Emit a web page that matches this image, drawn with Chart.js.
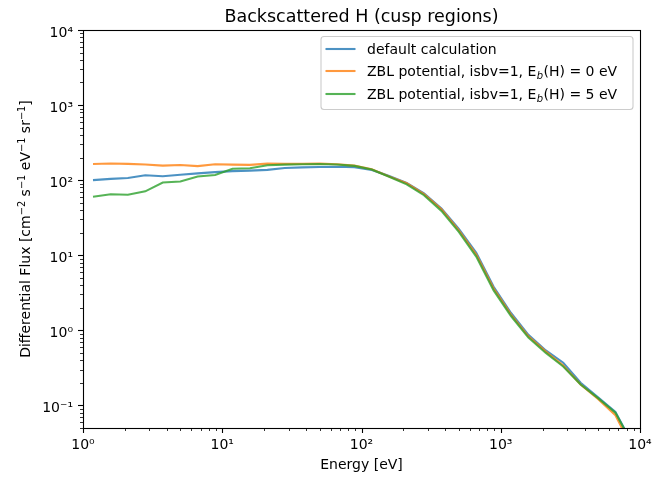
<!DOCTYPE html>
<html>
<head>
<meta charset="utf-8">
<script src="https://cdn.jsdelivr.net/npm/chart.js@4.4.0/dist/chart.umd.min.js"></script>
<style>
html, body { margin: 0; padding: 0; background: #fff; }
#wrap { width: 667px; height: 479px; }
</style>
</head>
<body>
<div id="wrap"><canvas id="chart" width="667" height="479"></canvas></div>
<script>
const energy = [1.18, 1.58, 2.1, 2.8, 3.74, 5.0, 6.66, 8.89, 11.85, 15.8, 21.1, 28.1, 37.5, 50, 66.7, 88.9,
    118.5, 158, 211, 281, 375, 500, 667, 889, 1185, 1580, 2107, 2810, 3746, 4995, 6660, 8880]
const fluxDefault = [100, 104, 107, 116, 113, 118, 123, 128, 132, 134, 137, 145, 148, 150, 151, 149,
    137, 114, 92, 66.5, 42, 22.5, 10.8, 3.8, 1.7, 0.87, 0.54, 0.37, 0.2, 0.128, 0.082, 0.03]
const fluxZbl0 = [164, 167, 165, 162, 156, 159, 154, 163, 161, 160, 166, 165, 165, 166, 163, 156,
    140, 112, 91, 65, 41, 21.5, 10.2, 3.6, 1.62, 0.83, 0.52, 0.34, 0.19, 0.122, 0.074, 0.026]
const fluxZbl5 = [60, 65, 64, 71, 93, 96, 112, 117, 142, 144, 158, 161, 163, 164, 162, 155,
    139, 111, 88, 63, 39, 20.5, 9.6, 3.4, 1.55, 0.8, 0.5, 0.33, 0.19, 0.125, 0.08, 0.03]

const xMajor = [1, 10, 100, 1000, 10000]
const xTickLabels = ['10⁰', '10¹', '10²', '10³', '10⁴']
const yMajor = [0.1, 1, 10, 100, 1000, 10000]
const yTickLabels = ['10⁻¹', '10⁰', '10¹', '10²', '10³', '10⁴']

const seriesLabels = ['default calculation', 'ZBL potential, isbv=1, E_b(H) = 0 eV', 'ZBL potential, isbv=1, E_b(H) = 5 eV']
const seriesColors = ['rgba(31,119,180,0.8)', 'rgba(255,127,14,0.8)', 'rgba(44,160,44,0.8)']
const chartTitle = 'Backscattered H (cusp regions)'
const yTitle = 'Differential Flux [cm^{−2} s^{−1} eV^{−1} sr^{−1}]'

const FONT = 'DejaVu Sans'

const toPoints = ys => energy.map((e, i) => ({ x: e, y: ys[i] }))

// major + minor ticks for a log axis
function logTicks(min, max) {
    const out = []
    for (let e = Math.floor(Math.log10(min)); e <= Math.ceil(Math.log10(max)); e++) {
        for (let m = 1; m <= 9; m++) {
            const v = m * Math.pow(10, e)
            if (v < min * 0.9999 || v > max * 1.0001) continue
            out.push({ value: v, major: m === 1 })
        }
    }
    return out
}

function labelFor(value, majors, labels) {
    for (let i = 0; i < majors.length; i++) {
        if (Math.abs(Math.log10(value) - Math.log10(majors[i])) < 1e-6) return labels[i]
    }
    return ''
}

// split "a^{b}c" into plain / superscript pieces
function mathParts(str) {
    const parts = []
    const re = /\^\{([^}]*)\}/g
    let last = 0, m
    while ((m = re.exec(str)) !== null) {
        if (m.index > last) parts.push({ t: str.slice(last, m.index), sup: false })
        parts.push({ t: m[1], sup: true })
        last = re.lastIndex
    }
    if (last < str.length) parts.push({ t: str.slice(last), sup: false })
    return parts
}

const tickMarks = {
    id: 'tickMarks',
    afterDraw(chart) {
        const ctx = chart.ctx
        const a = chart.chartArea
        const xs = chart.scales.x
        const ys = chart.scales.y
        ctx.save()
        ctx.strokeStyle = '#000'
        xs.ticks.forEach(t => {
            const px = Math.round(xs.getPixelForValue(t.value)) + 0.5
            ctx.lineWidth = t.major ? 1.1 : 0.8
            ctx.beginPath()
            ctx.moveTo(px, a.bottom)
            ctx.lineTo(px, a.bottom + (t.major ? 5 : 3))
            ctx.stroke()
        })
        ys.ticks.forEach(t => {
            const py = Math.round(ys.getPixelForValue(t.value)) + 0.5
            ctx.lineWidth = t.major ? 1.1 : 0.8
            ctx.beginPath()
            ctx.moveTo(a.left, py)
            ctx.lineTo(a.left - (t.major ? 5 : 3), py)
            ctx.stroke()
        })
        // axes frame
        ctx.lineWidth = 1.1
        ctx.strokeRect(Math.round(a.left) + 0.5, Math.round(a.top) + 0.5,
            Math.round(a.right - a.left), Math.round(a.bottom - a.top))
        ctx.restore()
    }
}

// title above the axes and rotated y label with real superscripts
const titles = {
    id: 'titles',
    afterDraw(chart) {
        const ctx = chart.ctx
        const a = chart.chartArea
        ctx.save()
        ctx.fillStyle = '#000'
        ctx.textAlign = 'center'
        ctx.textBaseline = 'alphabetic'
        ctx.font = '17.5px "' + FONT + '"'
        ctx.fillText(chartTitle, (a.left + a.right) / 2, 22)

        const parts = mathParts(yTitle)
        const base = '14px "' + FONT + '"'
        const small = '9.8px "' + FONT + '"'
        let total = 0
        parts.forEach(p => {
            ctx.font = p.sup ? small : base
            p.w = ctx.measureText(p.t).width
            total += p.w
        })
        ctx.translate(30, (a.top + a.bottom) / 2)
        ctx.rotate(-Math.PI / 2)
        ctx.textAlign = 'left'
        let x = -total / 2
        parts.forEach(p => {
            ctx.font = p.sup ? small : base
            ctx.fillText(p.t, x, p.sup ? -5.5 : 0)
            x += p.w
        })
        ctx.restore()
    }
}

// legend drawn inside the axes, upper right
const innerLegend = {
    id: 'innerLegend',
    afterDraw(chart) {
        const ctx = chart.ctx
        const a = chart.chartArea
        const w = 312, h = 73
        const x0 = a.right - 7.5 - w
        const y0 = a.top + 6
        ctx.save()
        ctx.beginPath()
        ctx.roundRect(x0 + 0.5, y0 + 0.5, w, h, 3)
        ctx.fillStyle = 'rgba(255,255,255,0.8)'
        ctx.fill()
        ctx.strokeStyle = '#cccccc'
        ctx.lineWidth = 1.1
        ctx.stroke()
        const rows = [13, 35, 58]
        chart.data.datasets.forEach((ds, i) => {
            const cy = y0 + rows[i]
            ctx.strokeStyle = ds.borderColor
            ctx.lineWidth = 2.1
            ctx.beginPath()
            ctx.moveTo(x0 + 5, cy)
            ctx.lineTo(x0 + 35, cy)
            ctx.stroke()
            ctx.fillStyle = '#000'
            ctx.textBaseline = 'alphabetic'
            ctx.textAlign = 'left'
            let tx = x0 + 46.5
            const by = cy + 5
            const parts = ds.label.split('_')
            ctx.font = '14px "' + FONT + '"'
            ctx.fillText(parts[0], tx, by)
            tx += ctx.measureText(parts[0]).width
            if (parts.length > 1) {
                const sub = parts[1].charAt(0)
                const rest = parts[1].slice(1)
                ctx.font = 'italic 10px "' + FONT + '"'
                ctx.fillText(sub, tx + 0.5, by + 2.5)
                tx += ctx.measureText(sub).width + 0.8
                ctx.font = '14px "' + FONT + '"'
                ctx.fillText(rest, tx, by)
            }
        })
        ctx.restore()
    }
}

const datasets = [fluxDefault, fluxZbl0, fluxZbl5].map((ys, i) => ({
    label: seriesLabels[i],
    data: toPoints(ys),
    borderColor: seriesColors[i],
    backgroundColor: seriesColors[i],
    borderWidth: 2.1,
    pointRadius: 0,
    tension: 0,
    fill: false,
    clip: 0,
    order: 3 - i
}))

const ctx = document.getElementById('chart').getContext('2d')
const chart = new Chart(ctx, {
    type: 'line',
    data: { datasets: datasets },
    options: {
        responsive: false,
        animation: false,
        devicePixelRatio: 1,
        layout: { padding: { left: 0, right: 27, top: 30, bottom: 0 } },
        scales: {
            x: {
                type: 'logarithmic',
                min: 1,
                max: 10000,
                afterBuildTicks: s => { s.ticks = logTicks(1, 10000) },
                afterFit: s => { s.height = 51 },
                grid: { display: false, drawTicks: false },
                border: { display: false },
                ticks: {
                    autoSkip: false,
                    maxRotation: 0,
                    minRotation: 0,
                    padding: 9,
                    color: '#000',
                    font: { family: FONT, size: 14 },
                    callback: v => labelFor(v, xMajor, xTickLabels)
                },
                title: {
                    display: true,
                    text: 'Energy [eV]',
                    color: '#000',
                    font: { family: FONT, size: 14 },
                    padding: { top: 0, bottom: 5 }
                }
            },
            y: {
                type: 'logarithmic',
                min: 0.05,
                max: 10000,
                afterBuildTicks: s => { s.ticks = logTicks(0.05, 10000) },
                afterFit: s => { s.width = 83 },
                grid: { display: false, drawTicks: false },
                border: { display: false },
                ticks: {
                    autoSkip: false,
                    padding: 10,
                    labelOffset: 3,
                    color: '#000',
                    font: { family: FONT, size: 14 },
                    callback: v => labelFor(v, yMajor, yTickLabels)
                }
            }
        },
        plugins: {
            legend: { display: false },
            tooltip: { enabled: false },
            title: { display: false }
        }
    },
    plugins: [tickMarks, titles, innerLegend]
})
</script>
</body>
</html>
